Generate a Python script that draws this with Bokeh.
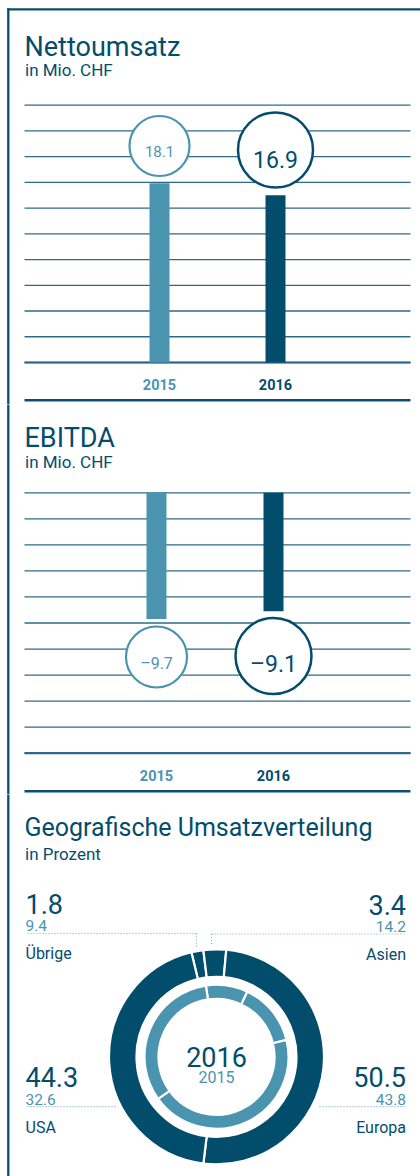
import math
from bokeh.plotting import figure
from bokeh.models import Range1d, ColumnDataSource
from bokeh.layouts import column
from bokeh.embed import file_html
from bokeh.resources import INLINE
from bokeh.core.properties import value

# ---------------- data ----------------
years = ["2015", "2016"]
year_nums = [2015, 2016]
netto_umsatz = [18.1, 16.9]
ebitda = [-9.7, -9.1]
netto_ticks = [0, 2.6, 5.2, 7.8, 10.4, 13.0, 15.6, 18.2, 20.8, 23.4, 26.0]
ebitda_ticks = [0, -2, -4, -6, -8, -10, -12, -14, -16, -18, -20]
regions = ["Übrige", "Asien", "Europa", "USA"]
share_2016 = [1.8, 3.4, 50.5, 44.3]
share_2015 = [9.4, 14.2, 43.8, 32.6]

# ---------------- style ----------------
DARK = "#034d6c"
LIGHT = "#4b94b0"
GRID = "#2e6a88"
FRAME = "#0a4f6f"
DOT = "#7fa9bf"
SANS = value("Roboto")
W = 420
YEAR_COLORS = [LIGHT, DARK]


def fmt(v):
    s = f"{abs(v):.1f}"
    return ("\u2013" + s) if v < 0 else s


def bar_panel(height, base_py, scale, x_first, x_step):
    x0 = year_nums[0] - x_first / x_step
    x1 = x0 + W / x_step
    y0 = (base_py - height) / scale
    y1 = base_py / scale
    p = figure(width=W, height=height, x_range=Range1d(x0, x1), y_range=Range1d(y0, y1),
               output_backend="svg", toolbar_location=None, min_border=0,
               x_axis_location=None, y_axis_location=None)
    p.outline_line_color = None
    p.xgrid.visible = False
    p.ygrid.visible = False
    px = lambda v: x0 + v / x_step
    py = lambda v: (base_py - v) / scale
    return p, px, py


def draw_bar_section(p, px, py, height, title, title_py, sub_py, ticks, vals, x_step,
                     circ_py, circ_sizes, circ_lw, circ_fs, val_py, year_py, sep_py, top_frame):
    # frame
    if top_frame:
        p.segment(x0=[px(6.7)], x1=[px(W)], y0=[py(8.8)], y1=[py(8.8)], line_color=FRAME, line_width=2.3)
        p.segment(x0=[px(7.8)], x1=[px(7.8)], y0=[py(7.7)], y1=[py(height + 1)], line_color=FRAME, line_width=2.3)
    else:
        p.segment(x0=[px(7.8)], x1=[px(7.8)], y0=[py(-1)], y1=[py(height + 1)], line_color=FRAME, line_width=2.3)
    # titles
    p.text(x=[px(24)], y=[py(title_py)], text=[title], text_font=SANS, text_font_size="27px",
           text_color=DARK, text_baseline="alphabetic", text_align="left")
    p.text(x=[px(24.5)], y=[py(sub_py)], text=["in Mio. CHF"], text_font=SANS, text_font_size="17px",
           text_color=DARK, text_baseline="alphabetic", text_align="left")
    # grid lines
    n = len(ticks)
    p.segment(x0=[px(24)] * n, x1=[px(410)] * n, y0=ticks, y1=ticks, line_color=GRID, line_width=1.3)
    base = ticks[-1] if ticks[-1] < 0 else ticks[0]
    p.segment(x0=[px(24)], x1=[px(410)], y0=[base], y1=[base], line_color=GRID, line_width=2.2)
    # bars
    p.vbar(x=year_nums, top=vals, bottom=0, width=20 / x_step, fill_color=YEAR_COLORS, line_color=None)
    # circles with value labels
    src = ColumnDataSource(dict(x=year_nums, y=[py(c) for c in circ_py], sz=circ_sizes, lw=circ_lw,
                                col=YEAR_COLORS, t=[fmt(v) for v in vals], fs=circ_fs,
                                ty=[py(c) for c in val_py]))
    p.scatter("x", "y", source=src, size="sz", fill_color="white", line_color="col", line_width="lw")
    p.text("x", "ty", text="t", source=src, text_font=SANS, text_font_size="fs", text_color="col",
           text_align="center", text_baseline="alphabetic")
    # year labels
    p.text(x=year_nums, y=[py(year_py)] * 2, text=years, text_font=SANS, text_font_size="14.5px",
           text_font_style="bold", text_color=YEAR_COLORS, text_align="center", text_baseline="alphabetic")
    # separator
    p.segment(x0=[px(24)], x1=[px(410)], y0=[py(sep_py)], y1=[py(sep_py)], line_color=FRAME, line_width=2.6)


# ---------------- Nettoumsatz ----------------
HA = 404
pa, pxa, pya = bar_panel(HA, 362, 9.9, 159, 116)
draw_bar_section(pa, pxa, pya, HA, "Nettoumsatz", 46, 69.5, netto_ticks, netto_umsatz, 116,
                 [145.5, 149.5], [60, 75], [2.2, 2.5], ["15px", "23px"], [150.7, 158.5], 384, 399.7, True)

# ---------------- EBITDA ----------------
HB = 390
OFF_B = 404
pb, pxb, pyb = bar_panel(HB, 492.3 - OFF_B, 13.02, 156, 117)
draw_bar_section(pb, pxb, pyb, HB, "EBITDA", 437.7 - OFF_B, 461.7 - OFF_B, ebitda_ticks, ebitda, 117,
                 [656.5 - OFF_B, 655.5 - OFF_B], [61, 76], [2.2, 2.5], ["16px", "23px"],
                 [662.5 - OFF_B, 664 - OFF_B], 775 - OFF_B, 790.7 - OFF_B, False)

# ---------------- Geografische Umsatzverteilung ----------------
HC = 382
C_TOP = 794
pc = figure(width=W, height=HC, x_range=Range1d(0, W), y_range=Range1d(0, HC),
            output_backend="svg", toolbar_location=None, min_border=0,
            x_axis_location=None, y_axis_location=None)
pc.outline_line_color = None
pc.xgrid.visible = False
pc.ygrid.visible = False
gy = lambda page_y: C_TOP + HC - page_y

pc.segment(x0=[7.8], x1=[7.8], y0=[gy(C_TOP - 1)], y1=[gy(C_TOP + HC)], line_color=FRAME, line_width=2.3)
pc.text(x=[24], y=[gy(827.3)], text=["Geografische Umsatzverteilung"], text_font=SANS,
        text_font_size="25px", text_color=DARK, text_baseline="alphabetic")
pc.text(x=[24.5], y=[gy(853.3)], text=["in Prozent"], text_font=SANS, text_font_size="17px",
        text_color=DARK, text_baseline="alphabetic")


def ring_angles(shares, start_deg):
    starts, ends = [], []
    cum = start_deg
    for s in shares:
        a0, a1 = cum, cum + s * 3.6
        starts.append(math.radians(90 - a0))
        ends.append(math.radians(90 - a1))
        cum = a1
    return starts, ends


CX, CY = 216, gy(1056.3)
s16, e16 = ring_angles(share_2016, -13.5)
s15, e15 = ring_angles(share_2015, -8.5)
pc.annular_wedge(x=[CX] * 4, y=[CY] * 4, inner_radius=80, outer_radius=107.5,
                 start_angle=s16, end_angle=e16, direction="clock",
                 inner_radius_units="screen", outer_radius_units="screen",
                 fill_color=DARK, line_color="white", line_width=2.2)
pc.annular_wedge(x=[CX] * 4, y=[CY] * 4, inner_radius=58, outer_radius=72,
                 start_angle=s15, end_angle=e15, direction="clock",
                 inner_radius_units="screen", outer_radius_units="screen",
                 fill_color=LIGHT, line_color="white", line_width=2.2)
pc.text(x=[CX], y=[gy(1056.7)], text=[years[1]], text_font=SANS, text_font_size="27px",
        text_color=DARK, text_align="center", text_baseline="alphabetic")
pc.text(x=[CX], y=[gy(1076.7)], text=[years[0]], text_font=SANS, text_font_size="16px",
        text_color=LIGHT, text_align="center", text_baseline="alphabetic")

# region labels (layout per region: anchor x, alignment, baseline of big number, dotted extent)
lab_x = [25, 405.5, 405.5, 25]
lab_align = ["left", "right", "right", "left"]
lab_base = [903.5, 904, 1076.7, 1076.7]
dot_x0 = [27, 211, 319, 27]
dot_x1 = [196, 405, 405, 115]

lsrc = ColumnDataSource(dict(
    x=lab_x, align=lab_align,
    yb=[gy(b) for b in lab_base], ys=[gy(b + 21.8) for b in lab_base], yn=[gy(b + 49.8) for b in lab_base],
    big=[f"{v:.1f}" for v in share_2016], small=[f"{v:.1f}" for v in share_2015], name=regions))
pc.text("x", "yb", text="big", source=lsrc, text_font=SANS, text_font_size="27px",
        text_color=DARK, text_align="align", text_baseline="alphabetic")
pc.text("x", "ys", text="small", source=lsrc, text_font=SANS, text_font_size="15.5px",
        text_color=LIGHT, text_align="align", text_baseline="alphabetic")
pc.text("x", "yn", text="name", source=lsrc, text_font=SANS, text_font_size="16px",
        text_color=DARK, text_align="align", text_baseline="alphabetic")
dy = [gy(b + 29.5) for b in lab_base]
pc.segment(x0=dot_x0, x1=dot_x1, y0=dy, y1=dy, line_color=DOT, line_width=1.2, line_dash="1 2")
# pointers from top labels down towards the ring
pc.segment(x0=[196, 211], x1=[196, 211], y0=[dy[0], dy[1]], y1=[gy(946), gy(944)],
           line_color=DOT, line_width=1.2, line_dash="1 2")

layout = column(pa, pb, pc, spacing=0)
open("out.html", "w").write(file_html(layout, INLINE))
